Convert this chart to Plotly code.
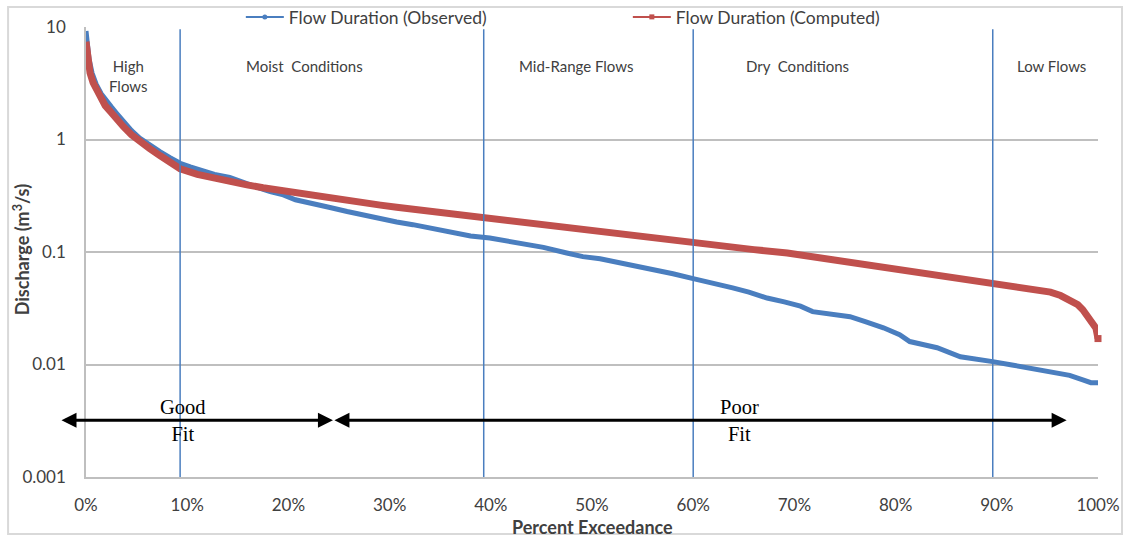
import plotly.graph_objects as go

# Flow duration curves: percent of time a discharge is equalled or exceeded
obs_pct = [0, 0.1, 0.3, 0.6, 1.0, 1.5, 2.0, 2.5, 3.0, 3.7, 4.5, 5.3, 6.3, 7.3, 8.3, 9.3,
           10.3, 11.3, 12.7, 14.2, 15.3, 16.4, 17.3, 18.2, 19.5, 20.7, 22.4, 24.0, 25.8,
           27.5, 29.1, 30.7, 32.3, 35.0, 38.0, 39.9, 42.5, 45.2, 47.5, 49.1, 50.8, 53.0,
           55.7, 58.0, 60.0, 62.0, 63.9, 65.5, 67.3, 69.0, 70.6, 71.8, 73.5, 75.5, 77.0,
           78.8, 80.4, 81.4, 82.8, 84.1, 86.4, 88.0, 89.6, 91.5, 93.0, 94.5, 95.9, 97.2,
           98.5, 99.3, 100]
obs_q = [9.2, 7.0, 5.2, 3.9, 3.1, 2.55, 2.2, 1.95, 1.72, 1.45, 1.2, 1.03, 0.89, 0.78, 0.69,
         0.615, 0.57, 0.53, 0.49, 0.46, 0.42, 0.385, 0.365, 0.345, 0.322, 0.291, 0.272,
         0.25, 0.229, 0.212, 0.196, 0.185, 0.175, 0.157, 0.139, 0.133, 0.122, 0.11, 0.098,
         0.091, 0.087, 0.079, 0.072, 0.064, 0.058, 0.053, 0.048, 0.044, 0.039, 0.036,
         0.033, 0.0295, 0.028, 0.0266, 0.024, 0.0212, 0.0184, 0.016, 0.015, 0.0141,
         0.0117, 0.011, 0.0106, 0.0099, 0.0094, 0.0089, 0.0085, 0.008, 0.0073, 0.0069,
         0.0069]

cmp_pct = [0, 0.05, 0.1, 0.2, 0.4, 0.7, 1.0, 1.4, 1.9, 2.4, 3.0, 3.7, 4.5, 5.3, 6.3, 7.3,
           8.3, 9.3, 11.0, 12.6, 14.2, 15.9, 17.5, 19.2, 20.8, 22.4, 24.1, 25.8, 27.5,
           29.1, 30.7, 32.3, 34.0, 35.7, 37.5, 39.2, 42.0, 45.0, 47.8, 50.8, 54.0, 57.0,
           60.0, 63.0, 66.0, 69.3, 72.5, 75.5, 78.0, 80.4, 83.0, 85.5, 87.5, 89.6, 91.5,
           93.5, 95.3, 96.3, 97.2, 98.0, 98.5, 99.0, 99.5, 99.8, 100]
cmp_q = [7.4, 6.6, 5.8, 4.8, 3.9, 3.2, 2.8, 2.4, 2.0, 1.78, 1.52, 1.3, 1.1, 0.96, 0.83,
         0.72, 0.63, 0.55, 0.49, 0.453, 0.42, 0.395, 0.372, 0.352, 0.333, 0.315, 0.30,
         0.287, 0.273, 0.261, 0.25, 0.24, 0.23, 0.221, 0.211, 0.202, 0.189, 0.175, 0.163,
         0.151, 0.14, 0.13, 0.121, 0.112, 0.105, 0.098, 0.089, 0.080, 0.074, 0.068,
         0.063, 0.059, 0.056, 0.053, 0.050, 0.047, 0.044, 0.041, 0.0377, 0.034, 0.0307,
         0.027, 0.0226, 0.021, 0.017]

x_ticks = [0, 10, 20, 30, 40, 50, 60, 70, 80, 90, 100]
x_tick_text = ["0%", "10%", "20%", "30%", "40%", "50%", "60%", "70%", "80%", "90%", "100%"]
y_ticks = [0.001, 0.01, 0.1, 1, 10]
y_tick_text = ["0.001", "0.01", "0.1", "1", "10"]

# Flow-regime boundaries and their labels
zone_bounds = [9.3, 39.3, 60.0, 89.6]
zone_names = ["High<br>Flows", "Moist  Conditions", "Mid-Range Flows", "Dry  Conditions", "Low Flows"]
zone_centers = [4.2, 21.6, 48.4, 70.3, 95.4]

BLUE = "#4A7EBF"
RED = "#C0504D"
GRID = "#BFBFBF"
TEXT = "#404040"
SANS = "Lato, 'Open Sans', sans-serif"
SERIF = "'Liberation Serif', 'Times New Roman', serif"

fig = go.Figure()

fig.add_trace(go.Scatter(x=obs_pct, y=obs_q, mode="lines", showlegend=False,
                         line=dict(color=BLUE, width=5)))
fig.add_trace(go.Scatter(x=cmp_pct, y=cmp_q, mode="lines", showlegend=False,
                         line=dict(color=RED, width=7)))
fig.add_trace(go.Scatter(x=[cmp_pct[-1]], y=[cmp_q[-1]], mode="markers", showlegend=False,
                         marker=dict(symbol="square", color=RED, size=7), cliponaxis=False))

# legend entries drawn as thin line + marker
fig.add_trace(go.Scatter(x=[None], y=[None], mode="lines+markers", name="Flow Duration (Observed)",
                         line=dict(color=BLUE, width=2), marker=dict(symbol="circle", size=5, color=BLUE)))
fig.add_trace(go.Scatter(x=[None], y=[None], mode="lines+markers", name="Flow Duration (Computed)",
                         line=dict(color=RED, width=2), marker=dict(symbol="square", size=5, color=RED)))

shapes = []
for xb in zone_bounds:
    shapes.append(dict(type="line", xref="x", yref="paper", x0=xb, x1=xb, y0=0, y1=0.995,
                       line=dict(color=BLUE, width=1.5)))
# outer chart border
shapes.append(dict(type="rect", xref="paper", yref="paper", x0=-0.077, x1=1.0237,
                   y0=-0.1267, y1=1.0444, line=dict(color="#D9D9D9", width=2), layer="below"))

annotations = []
for name, xc in zip(zone_names, zone_centers):
    annotations.append(dict(x=xc, y=0.891 if "<br>" in name else 0.913, xref="x", yref="paper",
                            xanchor="center", yanchor="middle",
                            text=name, showarrow=False, font=dict(family=SANS, size=15, color=TEXT)))

ARROW_Y = -2.496  # log10 of discharge along which the fit arrows run
annotations.append(dict(x=24.4, y=ARROW_Y, ax=-2.57, ay=ARROW_Y, xref="x", yref="y", axref="x", ayref="y",
                        text="", showarrow=True, arrowside="end+start", arrowhead=2, startarrowhead=2,
                        arrowsize=1.0, startarrowsize=1.0, arrowwidth=3, arrowcolor="black"))
annotations.append(dict(x=96.9, y=ARROW_Y, ax=24.4, ay=ARROW_Y, xref="x", yref="y", axref="x", ayref="y",
                        text="", showarrow=True, arrowside="end+start", arrowhead=2, startarrowhead=2,
                        arrowsize=1.0, startarrowsize=1.0, arrowwidth=3, arrowcolor="black"))
annotations.append(dict(x=9.6, y=ARROW_Y, xref="x", yref="y", text="Good<br>Fit", showarrow=False,
                        xanchor="center", yanchor="middle",
                        font=dict(family=SERIF, size=20.5, color="black")))
annotations.append(dict(x=64.6, y=ARROW_Y, xref="x", yref="y", text="Poor<br>Fit", showarrow=False,
                        xanchor="center", yanchor="middle",
                        font=dict(family=SERIF, size=20.5, color="black")))

# axis titles
annotations.append(dict(x=0.5, y=-0.111, xref="paper", yref="paper", text="<b>Percent Exceedance</b>",
                        xanchor="center", yanchor="middle",
                        showarrow=False, font=dict(family=SANS, size=18, color=TEXT)))
annotations.append(dict(x=-0.0632, y=0.504, xref="paper", yref="paper", text="<b>Discharge (m<sup>3</sup>/s)</b>",
                        xanchor="center", yanchor="middle",
                        textangle=-90, showarrow=False, font=dict(family=SANS, size=18, color=TEXT)))

fig.update_layout(
    width=1128, height=539,
    margin=dict(l=86, r=30, t=27, b=62, autoexpand=False),
    paper_bgcolor="white", plot_bgcolor="white",
    font=dict(family=SANS, size=15, color=TEXT),
    shapes=shapes, annotations=annotations,
    legend=dict(orientation="h", x=0.153, y=1 - 17 / 539, xref="paper", yref="container",
                xanchor="left", yanchor="middle",
                font=dict(family=SANS, size=17.5, color=TEXT), itemwidth=38,
                entrywidth=334, bgcolor="rgba(0,0,0,0)", tracegroupgap=0),
)
fig.update_xaxes(range=[0, 100], tickvals=x_ticks, ticktext=x_tick_text, showgrid=False,
                 showline=True, linecolor=GRID, linewidth=1.5, ticks="", ticklabelstandoff=12,
                 tickfont=dict(family=SANS, size=17, color=TEXT), zeroline=False)
fig.update_yaxes(type="log", range=[-3, 1], tickvals=y_ticks, ticktext=y_tick_text, showgrid=True,
                 gridcolor=GRID, gridwidth=1.5, showline=True, linecolor=GRID, linewidth=1.5,
                 ticks="", ticklabelstandoff=15, tickfont=dict(family=SANS, size=17, color=TEXT))

fig.write_html("out.html")
